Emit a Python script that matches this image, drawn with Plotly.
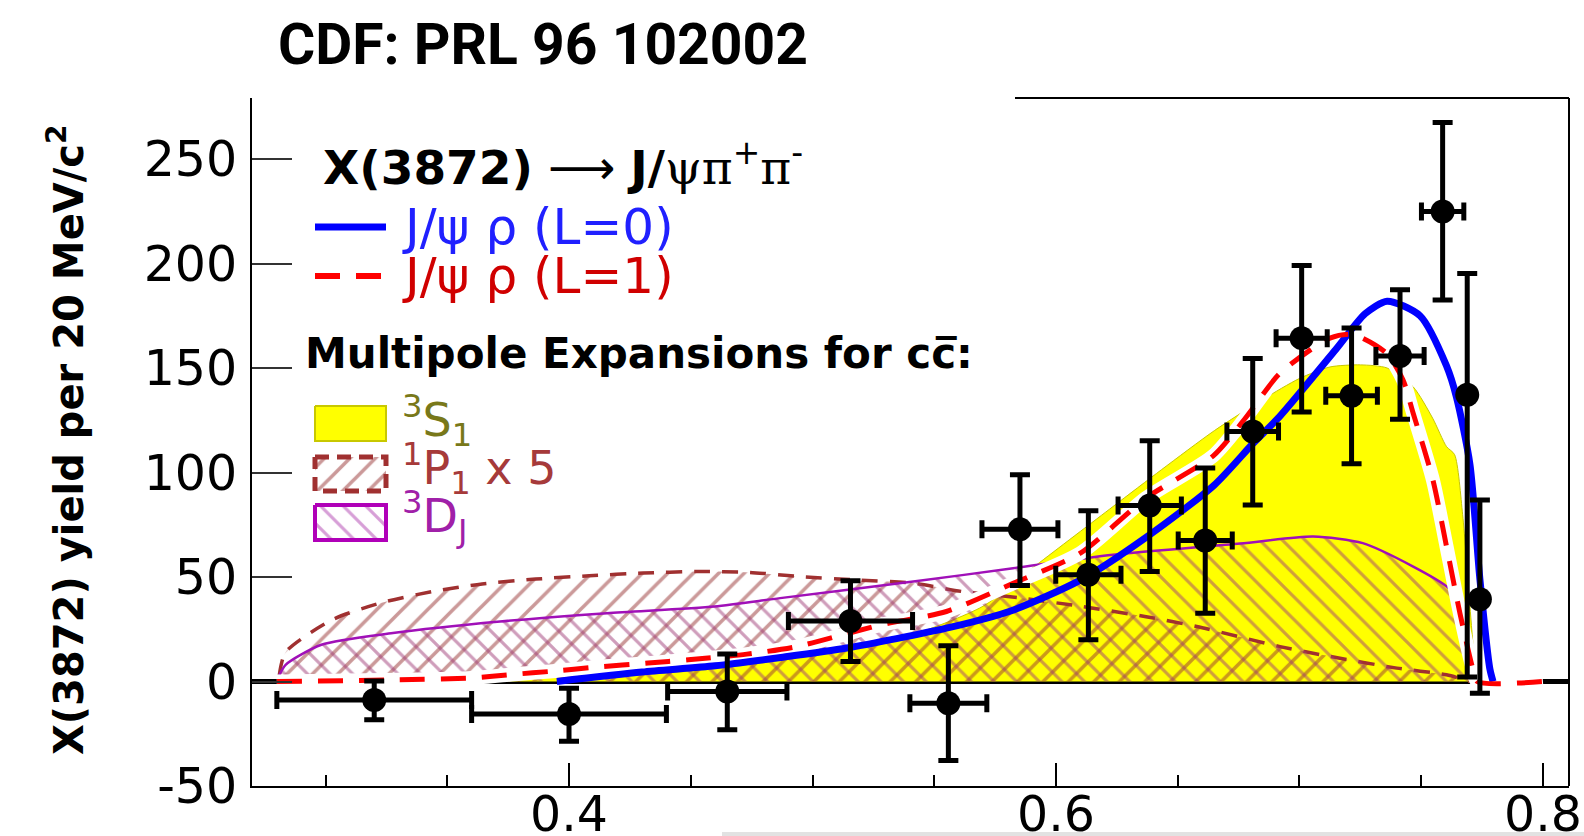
import plotly.graph_objects as go

# ---------------- data ----------------
pt_x = [0.320, 0.400, 0.465, 0.5156, 0.5558, 0.5852, 0.6133, 0.6385, 0.6613, 0.6808,
        0.7009, 0.7214, 0.7413, 0.7588, 0.7689, 0.7741]
pt_y = [-8.8, -15.6, -4.8, 28.9, -10.4, 72.9, 51.1, 84.2, 67.5, 119.6,
        164.3, 136.7, 155.8, 224.9, 137.2, 39.4]
pt_xerr = [0.040, 0.040, 0.0245, 0.0255, 0.0158, 0.0156, 0.0134, 0.013, 0.0111, 0.0106,
           0.0105, 0.0106, 0.0099, 0.0087, 0.0, 0.0]
pt_yerr_up = [9.0, 12.4, 18.0, 19.3, 27.5, 26.0, 30.6, 31.0, 34.6, 35.0,
              34.7, 32.4, 31.6, 42.6, 58.0, 47.5]
pt_yerr_dn = [9.5, 13.0, 18.3, 19.3, 27.4, 27.0, 31.1, 31.6, 34.8, 35.1,
              35.3, 32.5, 30.3, 42.3, 135.0, 45.0]

# J/psi rho (L=0)
l0_x = [0.395, 0.43, 0.46, 0.487, 0.514, 0.555, 0.582, 0.61, 0.637, 0.665, 0.681, 0.692,
        0.715, 0.727, 0.736, 0.7495, 0.7604, 0.7645, 0.77, 0.7741, 0.7782, 0.7795]
l0_y = [0, 4.5, 7.5, 11.5, 16, 25.5, 34, 48.5, 69, 94, 114, 127,
        159, 176, 182, 175, 151, 136, 104, 49, 6, 0]

# J/psi rho (L=1)
l1_x = [0.28, 0.33, 0.36, 0.378, 0.392, 0.4115, 0.4325, 0.449, 0.473, 0.4935, 0.5277,
        0.555, 0.5824, 0.61, 0.637, 0.6646, 0.6783, 0.692, 0.7125, 0.722, 0.7358,
        0.7425, 0.7467, 0.7548, 0.7604, 0.7659, 0.7713, 0.773, 0.80]
l1_y = [0, 0.8, 1.7, 3.5, 4.8, 6.9, 8.8, 10.4, 13.1, 16.7, 27,
        33.5, 47, 61.4, 87.8, 108, 126.8, 147.5, 164.3, 166, 157,
        144.4, 128.4, 96.5, 64.6, 32.7, 5.6, 0, 0]

# 3S1
s1_x = [0.28, 0.30, 0.34, 0.38, 0.42, 0.45, 0.48, 0.51, 0.54, 0.57, 0.592, 0.6234,
        0.6434, 0.665, 0.685, 0.70, 0.7125, 0.725, 0.736, 0.7467, 0.7547, 0.7604,
        0.7637, 0.767, 0.77, 0.7725]
s1_y = [0, 3, 3, 2.5, 3, 5, 9, 15, 22, 36, 55.8, 83.7,
        101.4, 120, 135, 145, 150.5, 151.5, 150, 141, 126, 112.4,
        108.6, 80, 36, 0]

# 1P1 x 5
p1_x = [0.281, 0.2836, 0.3027, 0.323, 0.3437, 0.3643, 0.3863, 0.4083, 0.4304, 0.4523,
        0.4743, 0.4949, 0.5167, 0.5414, 0.5618, 0.585, 0.61, 0.637, 0.6578, 0.692,
        0.7125, 0.74, 0.7604, 0.77]
p1_y = [3, 14, 29.5, 37.7, 43, 46.7, 49, 50.6, 51.9, 52.6,
        52.2, 50.2, 48.7, 47, 43, 40, 36, 31, 26.3, 16.7,
        12, 6.4, 3.2, 0]

# 3DJ
d_x = [0.281, 0.2836, 0.2983, 0.3277, 0.3717, 0.4156, 0.4597, 0.4867, 0.5414, 0.5824,
       0.6234, 0.6756, 0.7056, 0.726, 0.7467, 0.7604, 0.763, 0.767, 0.7713]
d_y = [3, 8, 17.6, 23.2, 28.7, 32.7, 35.9, 39.9, 47.8, 54.2,
       60.6, 66, 69.4, 66.2, 55, 45.5, 42, 20, 0]

y_tick_vals = [-50, 0, 50, 100, 150, 200, 250]
y_tick_text = ["-50", "0", "50", "100", "150", "200", "250"]
x_tick_vals = [0.4, 0.6, 0.8]
x_tick_text = ["0.4", "0.6", "0.8"]

# ---------------- layout geometry ----------------
W, H = 1584, 836
L, R, T, B = 252, 15, 98, 50
PW, PH = W - L - R, H - T - B


def px(xp):
    return (xp - L) / PW


def py(yp):
    return (H - B - yp) / PH


FONT = "DejaVu Sans, Arial, sans-serif"
SM = 0.7
P_HATCH = "#983434"
D_HATCH = "#a03c78"

fig = go.Figure()

# 3S1 yellow area
fig.add_trace(go.Scatter(x=s1_x, y=s1_y, mode="lines", fill="tozeroy",
                         fillcolor="#ffff00",
                         line=dict(color="#c8c800", width=1, shape="spline", smoothing=SM)))
# 1P1 x5 hatched area
fig.add_trace(go.Scatter(x=p1_x, y=p1_y, mode="lines", fill="tozeroy",
                         fillcolor="rgba(0,0,0,0)",
                         fillpattern=dict(shape="/", fgcolor=P_HATCH, bgcolor="rgba(0,0,0,0)",
                                          size=18, solidity=0.2),
                         line=dict(color="#a03030", width=3.5, dash="16px,12px",
                                   shape="spline", smoothing=SM)))
# 3DJ hatched area
fig.add_trace(go.Scatter(x=d_x, y=d_y, mode="lines", fill="tozeroy",
                         fillcolor="rgba(0,0,0,0)",
                         fillpattern=dict(shape="\\", fgcolor=D_HATCH, bgcolor="rgba(0,0,0,0)",
                                          size=16, solidity=0.2),
                         line=dict(color="#a010b8", width=2.5, shape="spline", smoothing=SM)))
# white halo under the L=1 curve
fig.add_trace(go.Scatter(x=l1_x, y=l1_y, mode="lines",
                         line=dict(color="white", width=14, shape="spline", smoothing=SM)))
# L=0 curve
fig.add_trace(go.Scatter(x=l0_x, y=l0_y, mode="lines",
                         line=dict(color="#0000ff", width=7, shape="spline", smoothing=SM)))
# L=1 curve
fig.add_trace(go.Scatter(x=l1_x, y=l1_y, mode="lines",
                         line=dict(color="#ff0000", width=5, dash="25px,16px",
                                   shape="spline", smoothing=SM)))
# data
fig.add_trace(go.Scatter(
    x=pt_x, y=pt_y, mode="markers",
    marker=dict(color="black", size=24, symbol="circle"),
    error_x=dict(type="data", array=pt_xerr, color="black", thickness=5, width=9),
    error_y=dict(type="data", array=pt_yerr_up, arrayminus=pt_yerr_dn, symmetric=False,
                 color="black", thickness=5, width=10)))

# ---------------- legend swatches on a pixel-unit overlay axis ----------------
LX0, LX1 = 315, 386
fig.add_trace(go.Scatter(x=[LX0, LX1], y=[227, 227], mode="lines", xaxis="x2", yaxis="y2",
                         line=dict(color="#0000ff", width=7)))
fig.add_trace(go.Scatter(x=[LX0, LX1], y=[276, 276], mode="lines", xaxis="x2", yaxis="y2",
                         line=dict(color="#ff0000", width=6, dash="25px,16px")))
fig.add_trace(go.Scatter(x=[LX0, LX1, LX1, LX0, LX0], y=[406, 406, 441, 441, 406],
                         mode="lines", fill="toself", fillcolor="#ffff00",
                         xaxis="x2", yaxis="y2", line=dict(color="#c8c800", width=2)))
fig.add_trace(go.Scatter(x=[LX0, LX1, LX1, LX0, LX0], y=[457, 457, 491, 491, 457],
                         mode="lines", fill="toself", fillcolor="rgba(0,0,0,0)",
                         fillpattern=dict(shape="/", fgcolor=P_HATCH, bgcolor="rgba(0,0,0,0)",
                                          size=18, solidity=0.2),
                         xaxis="x2", yaxis="y2",
                         line=dict(color="#a03030", width=5, dash="14px,8px")))
fig.add_trace(go.Scatter(x=[LX0, LX1, LX1, LX0, LX0], y=[505, 505, 540, 540, 505],
                         mode="lines", fill="toself", fillcolor="rgba(0,0,0,0)",
                         fillpattern=dict(shape="\\", fgcolor="#b040b0", bgcolor="rgba(0,0,0,0)",
                                          size=16, solidity=0.2),
                         xaxis="x2", yaxis="y2",
                         line=dict(color="#b000b8", width=4)))

SERIF = "<span style=\"font-family:DejaVu Serif\">{}</span>"
annotations = [
    dict(text="CDF: PRL 96 102002", x=px(276), y=py(45), xref="paper", yref="paper",
         xanchor="left", yanchor="middle", showarrow=False,
         font=dict(family="Roboto, DejaVu Sans Condensed, sans-serif",
                   size=57, color="black", weight="bold")),
    dict(text="X(3872) yield per 20 MeV/c<sup>2</sup>", x=px(66), y=py(440),
         xref="paper", yref="paper", textangle=-90, showarrow=False,
         xanchor="center", yanchor="middle",
         font=dict(family=FONT, size=40, color="black", weight="bold")),
    dict(text="<b>X(3872)</b> \u27f6 <b>J/</b>" + SERIF.format("\u03c8\u03c0")
              + "<sup>+</sup>" + SERIF.format("\u03c0") + "<sup>-</sup>",
         x=px(321), y=py(164), xref="paper", yref="paper", xanchor="left", yanchor="middle",
         showarrow=False, font=dict(family=FONT, size=47, color="black")),
    dict(text="J/\u03c8 \u03c1 (L=0)", x=px(400), y=py(227), xref="paper", yref="paper",
         xanchor="left", yanchor="middle", showarrow=False,
         font=dict(family=FONT, size=50, color="#2020ff")),
    dict(text="J/\u03c8 \u03c1 (L=1)", x=px(400), y=py(276), xref="paper", yref="paper",
         xanchor="left", yanchor="middle", showarrow=False,
         font=dict(family=FONT, size=50, color="#d00000")),
    dict(text="<b>Multipole Expansions for cc\u0305:</b>", x=px(303), y=py(353),
         xref="paper", yref="paper", xanchor="left", yanchor="middle", showarrow=False,
         font=dict(family=FONT, size=42, color="black")),
    dict(text="<sup>3</sup>S<sub>1</sub>", x=px(400), y=py(420), xref="paper", yref="paper",
         xanchor="left", yanchor="middle", showarrow=False,
         font=dict(family=FONT, size=46, color="#78781a")),
    dict(text="<sup>1</sup>P<sub>1</sub> x 5", x=px(400), y=py(468), xref="paper", yref="paper",
         xanchor="left", yanchor="middle", showarrow=False,
         font=dict(family=FONT, size=46, color="#a63a3a")),
    dict(text="<sup>3</sup>D<sub>J</sub>", x=px(400), y=py(516), xref="paper", yref="paper",
         xanchor="left", yanchor="middle", showarrow=False,
         font=dict(family=FONT, size=46, color="#a020a8")),
]

shapes = [
    # partial top frame and right frame
    dict(type="line", xref="paper", yref="paper", x0=px(1015), x1=1, y0=1, y1=1,
         line=dict(color="black", width=2)),
    dict(type="line", xref="paper", yref="paper", x0=1, x1=1, y0=0, y1=1,
         line=dict(color="black", width=2)),
    # faint page-edge artefact at the bottom
    dict(type="rect", xref="paper", yref="paper", x0=px(722), x1=px(W), y0=py(H), y1=py(H - 4),
         fillcolor="#e2e2e2", line=dict(width=0)),
]

fig.update_layout(
    width=W, height=H,
    margin=dict(l=L, r=R, t=T, b=B, autoexpand=False),
    paper_bgcolor="white", plot_bgcolor="white",
    showlegend=False,
    xaxis=dict(range=[0.2698, 0.8107], showgrid=False, zeroline=False, automargin=False,
               showline=True, linecolor="black", linewidth=2,
               ticks="inside", ticklen=23, tickwidth=2, tickcolor="black",
               tickvals=x_tick_vals, ticktext=x_tick_text,
               ticklabelstandoff=-16,
               minor=dict(tickmode="linear", tick0=0.0, dtick=0.05, ticks="inside",
                          ticklen=11, tickwidth=2, tickcolor="black", showgrid=False),
               tickfont=dict(family=FONT, size=49, color="black")),
    yaxis=dict(range=[-50, 279.2], showgrid=False, automargin=False,
               zeroline=True, zerolinecolor="black", zerolinewidth=5,
               showline=True, linecolor="black", linewidth=2,
               ticks="inside", ticklen=40, tickwidth=2, tickcolor="#333333",
               tickvals=y_tick_vals, ticktext=y_tick_text,
               ticklabelstandoff=3,
               tickfont=dict(family=FONT, size=49, color="black")),
    xaxis2=dict(overlaying="x", range=[L, W - R], visible=False, anchor="y2"),
    yaxis2=dict(overlaying="y", range=[H - B, T], visible=False, anchor="x2"),
    annotations=annotations,
    shapes=shapes,
)

fig.write_html("out.html", config={"displayModeBar": False},
               post_script="document.body.style.margin='0px';document.body.style.overflow='hidden';")
